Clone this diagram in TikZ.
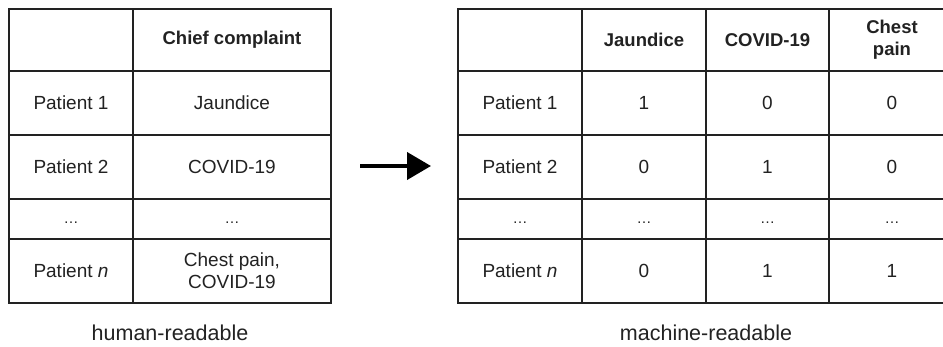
\documentclass[tikz,border=0pt]{standalone}
\usepackage{fontspec}
\setmainfont{Liberation Sans}
\usetikzlibrary{arrows.meta}
\definecolor{ink}{HTML}{222222}
\newcommand{\gapdots}{{\fontsize{15}{18}\selectfont\smash{\raisebox{-5pt}{\textellipsis}}}}
\tikzset{
  cell/.style={draw=ink, line width=1.8pt, inner sep=0pt, outer sep=0pt,
    anchor=north west, align=center, text=ink,
    font=\fontsize{19}{22}\selectfont},
  head/.style={cell, font=\fontsize{18.5}{22}\selectfont\bfseries},
  caption/.style={text=ink, font=\fontsize{21.5}{24}\selectfont},
}
\begin{document}
\begin{tikzpicture}[x=1pt, y=-1pt]
\clip (0,0) rectangle (943,347);
\fill[white] (0,0) rectangle (943,347);

% human-readable table
\node[cell, minimum width=124pt, minimum height=62pt] (h00) at (9,9) {};
\node[head, minimum width=198pt, minimum height=62pt] (h01) at (133,9) {Chief complaint};
\node[cell, minimum width=124pt, minimum height=64pt] (h10) at (9,71) {Patient 1};
\node[cell, minimum width=198pt, minimum height=64pt] (h11) at (133,71) {Jaundice};
\node[cell, minimum width=124pt, minimum height=64pt] (h20) at (9,135) {Patient 2};
\node[cell, minimum width=198pt, minimum height=64pt] (h21) at (133,135) {COVID-19};
\node[cell, minimum width=124pt, minimum height=40pt] (h30) at (9,199) {\gapdots};
\node[cell, minimum width=198pt, minimum height=40pt] (h31) at (133,199) {\gapdots};
\node[cell, minimum width=124pt, minimum height=64pt] (h40) at (9,239) {Patient \textit{n}};
\node[cell, minimum width=198pt, minimum height=64pt] (h41) at (133,239) {Chest pain,\\COVID-19};
\node[caption] (hcap) at (170,333) {human-readable};

% machine-readable table
\node[cell, minimum width=124pt, minimum height=62pt] (m00) at (458,9) {};
\node[head, minimum width=124pt, minimum height=62pt] (m01) at (582,9) {Jaundice};
\node[head, minimum width=123pt, minimum height=62pt] (m02) at (706,9) {COVID-19};
\node[head, minimum width=126pt, minimum height=62pt] (m03) at (829,9) {Chest\\pain};

\node[cell, minimum width=124pt, minimum height=64pt] (m10) at (458,71) {Patient 1};
\node[cell, minimum width=124pt, minimum height=64pt] (m11) at (582,71) {1};
\node[cell, minimum width=123pt, minimum height=64pt] (m12) at (706,71) {0};
\node[cell, minimum width=126pt, minimum height=64pt] (m13) at (829,71) {0};

\node[cell, minimum width=124pt, minimum height=64pt] (m20) at (458,135) {Patient 2};
\node[cell, minimum width=124pt, minimum height=64pt] (m21) at (582,135) {0};
\node[cell, minimum width=123pt, minimum height=64pt] (m22) at (706,135) {1};
\node[cell, minimum width=126pt, minimum height=64pt] (m23) at (829,135) {0};

\node[cell, minimum width=124pt, minimum height=40pt] (m30) at (458,199) {\gapdots};
\node[cell, minimum width=124pt, minimum height=40pt] (m31) at (582,199) {\gapdots};
\node[cell, minimum width=123pt, minimum height=40pt] (m32) at (706,199) {\gapdots};
\node[cell, minimum width=126pt, minimum height=40pt] (m33) at (829,199) {\gapdots};

\node[cell, minimum width=124pt, minimum height=64pt] (m40) at (458,239) {Patient \textit{n}};
\node[cell, minimum width=124pt, minimum height=64pt] (m41) at (582,239) {0};
\node[cell, minimum width=123pt, minimum height=64pt] (m42) at (706,239) {1};
\node[cell, minimum width=126pt, minimum height=64pt] (m43) at (829,239) {1};
\node[caption] (mcap) at (706,333) {machine-readable};

% conversion arrow
\coordinate (a1) at (360,166);
\coordinate (a2) at (431,166);
\draw[line width=4pt, -{Triangle[length=24pt, width=27pt]}] (a1) -- (a2);
\end{tikzpicture}
\end{document}
